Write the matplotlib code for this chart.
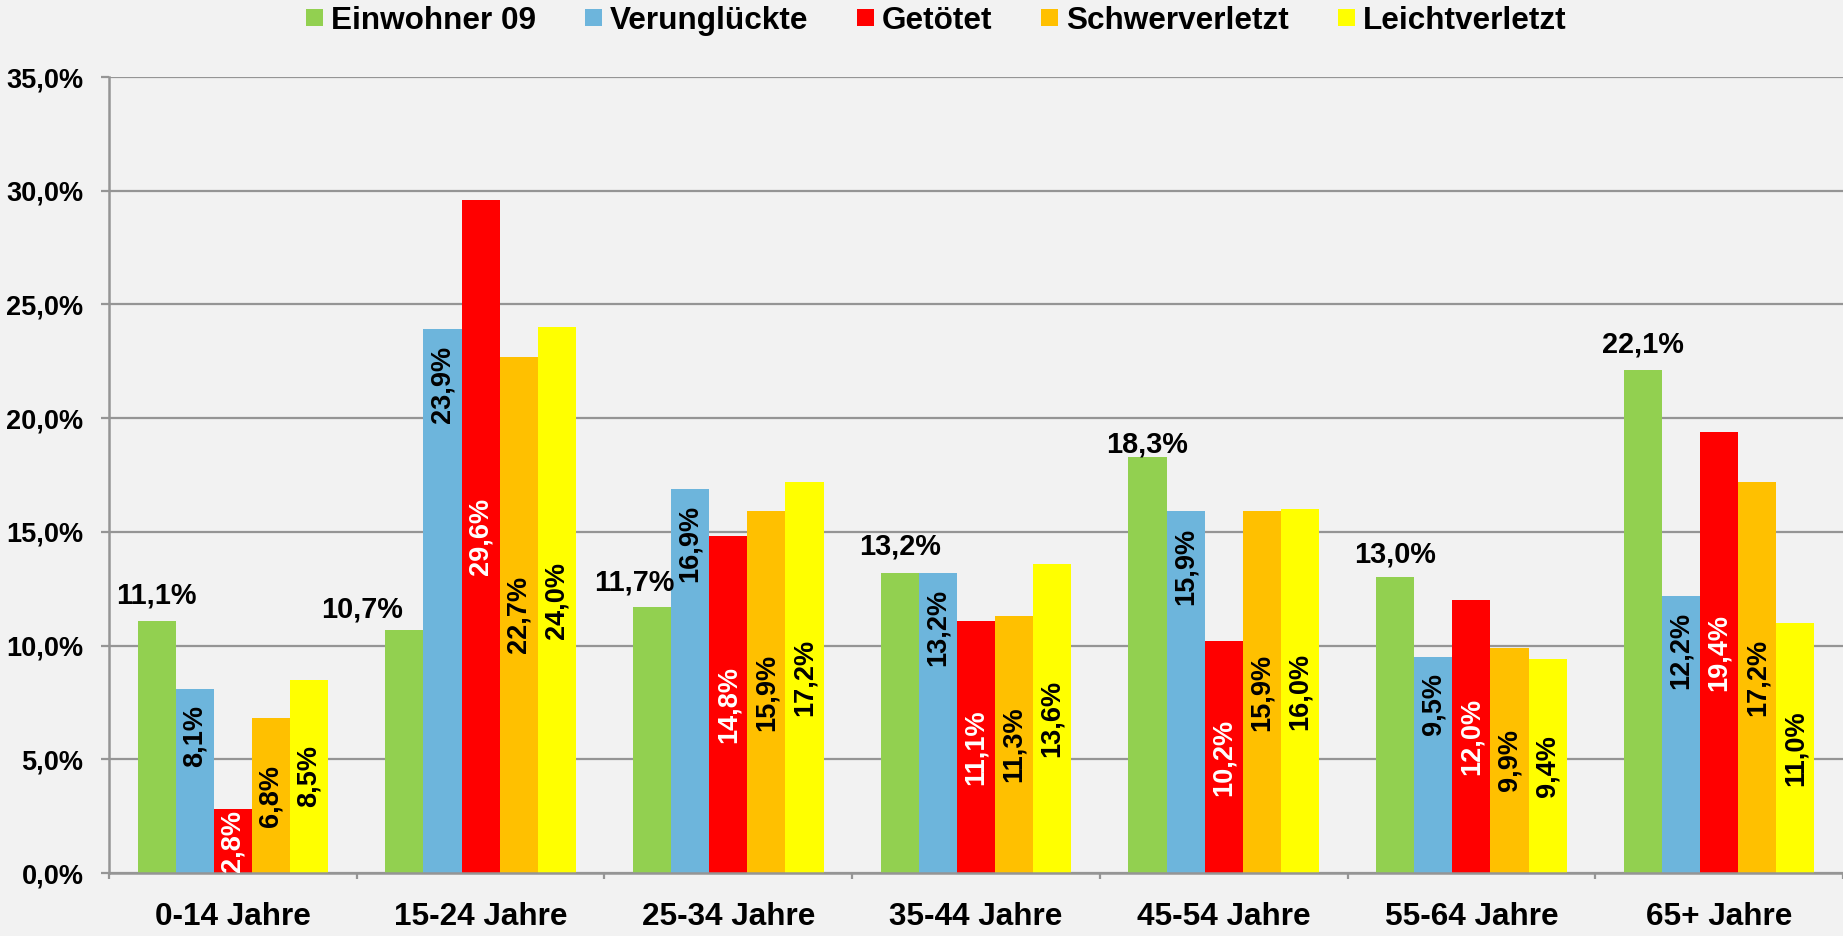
import matplotlib
matplotlib.use("Agg")
import matplotlib.pyplot as plt
from matplotlib.patches import Patch
import numpy as np

categories = ["0-14 Jahre", "15-24 Jahre", "25-34 Jahre", "35-44 Jahre",
              "45-54 Jahre", "55-64 Jahre", "65+ Jahre"]
series_names = ["Einwohner 09", "Verunglückte", "Getötet", "Schwerverletzt", "Leichtverletzt"]
einwohner = [11.1, 10.7, 11.7, 13.2, 18.3, 13.0, 22.1]
verunglueckte = [8.1, 23.9, 16.9, 13.2, 15.9, 9.5, 12.2]
getoetet = [2.8, 29.6, 14.8, 11.1, 10.2, 12.0, 19.4]
schwerverletzt = [6.8, 22.7, 15.9, 11.3, 15.9, 9.9, 17.2]
leichtverletzt = [8.5, 24.0, 17.2, 13.6, 16.0, 9.4, 11.0]
y_ticks = [0, 5, 10, 15, 20, 25, 30, 35]

colors = ["#92D050", "#6DB5DC", "#FF0000", "#FFC000", "#FFFF00"]
label_colors = ["black", "black", "white", "black", "black"]
# manual nudges of the horizontal labels above green bars (pixels)
green_dx = [0, -42, -18, 0, 0, 0, 0]
green_gap = [17, 12, 16, 18, 4, 15, 18]

BG = "#F2F2F2"
GRID = "#959595"
DPI = 100
px = 72.0 / DPI

fig = plt.figure(figsize=(18.43, 9.36), dpi=DPI, facecolor=BG)
ax = fig.add_axes([109 / 1843, (936 - 873) / 936, 1 - 109 / 1843, (873 - 77) / 936])
ax.set_facecolor(BG)

data = [einwohner, verunglueckte, getoetet, schwerverletzt, leichtverletzt]
n = len(data)
bw = 1.0 / (n + 1.5)
x = np.arange(len(categories))

bold = dict(family=["Liberation Sans", "DejaVu Sans"], weight="bold")
narrow = dict(family=["Liberation Sans Narrow", "Liberation Sans", "DejaVu Sans"], weight="bold")

def fmt(v):
    return f"{v:.1f}%".replace(".", ",")

for s, vals in enumerate(data):
    xs = x + (s - (n - 1) / 2) * bw
    ax.bar(xs, vals, width=bw, color=colors[s], edgecolor="none", zorder=3)
    for i, (xi, v) in enumerate(zip(xs, vals)):
        if s == 0:
            ax.annotate(fmt(v), (xi, v), xytext=(green_dx[i] * px, green_gap[i] * px),
                        textcoords="offset points", ha="center", va="baseline",
                        fontsize=20.8, color="black", zorder=5, **bold)
        elif s == 1:
            ax.annotate(fmt(v), (xi, v), xytext=(0, -16 * px),
                        textcoords="offset points", ha="center", va="top",
                        rotation=90, fontsize=19.5, color=label_colors[s], zorder=5, **narrow)
        else:
            ax.text(xi, v / 2, fmt(v), ha="center", va="center", rotation=90,
                    fontsize=19.5, color=label_colors[s], zorder=5, **narrow)

ax.set_xlim(-0.5, len(categories) - 0.5)
ax.set_ylim(0, 35)
ax.set_yticks(y_ticks)
ax.set_yticklabels([f"{t:.1f}%".replace(".", ",") for t in y_ticks], fontsize=19.5, **bold)
ax.yaxis.grid(True, color=GRID, linewidth=1.6, zorder=0)
ax.set_axisbelow(True)

ax.set_xticks(x)
ax.set_xticklabels(categories, fontsize=22.7, **bold)
ax.set_xticks(np.arange(len(categories) + 1) - 0.5, minor=True)
ax.tick_params(axis="x", which="major", length=0, pad=21)
ax.tick_params(axis="x", which="minor", length=4.3, width=1.6, color=GRID)
ax.tick_params(axis="y", which="major", length=6.1, width=1.6, color=GRID, pad=12.2)

for side in ["top", "right"]:
    ax.spines[side].set_visible(False)
for side in ["left", "bottom"]:
    ax.spines[side].set_color(GRID)
    ax.spines[side].set_linewidth(1.8)
    ax.spines[side].set_zorder(4)

handles = [Patch(facecolor=c, edgecolor="none") for c in colors]
fig.legend(handles, series_names, loc="center", bbox_to_anchor=(936 / 1843, 1 - 21 / 936),
           ncol=5, frameon=False, prop=dict(family=["Liberation Sans", "DejaVu Sans"],
                                            weight="bold", size=22.7),
           handlelength=0.54, handleheight=0.45, handletextpad=0.25, columnspacing=1.55,
           borderaxespad=0, borderpad=0)

fig.savefig("out.png", dpi=DPI, facecolor=BG)
